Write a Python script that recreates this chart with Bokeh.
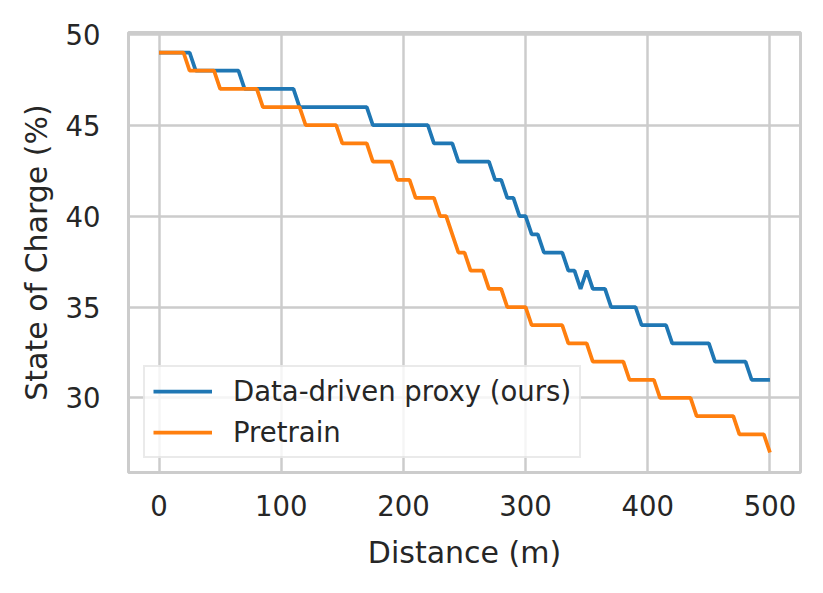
from bokeh.plotting import figure
from bokeh.models import ColumnDataSource, Legend, LegendItem, FixedTicker, Range1d
from bokeh.embed import file_html
from bokeh.resources import INLINE

# Distance samples (m), every 5 m
distance_m = list(range(0, 501, 5))

# State of charge (%)
soc_proxy = [
    49, 49, 49, 49, 49, 49,
    48, 48, 48, 48, 48, 48, 48, 48,
    47, 47, 47, 47, 47, 47, 47, 47, 47,
    46, 46, 46, 46, 46, 46, 46, 46, 46, 46, 46, 46,
    45, 45, 45, 45, 45, 45, 45, 45, 45, 45,
    44, 44, 44, 44,
    43, 43, 43, 43, 43, 43,
    42, 42,
    41, 41,
    40, 40,
    39, 39,
    38, 38, 38, 38,
    37, 37,
    36,
    37,
    36, 36, 36,
    35, 35, 35, 35, 35,
    34, 34, 34, 34, 34,
    33, 33, 33, 33, 33, 33, 33,
    32, 32, 32, 32, 32, 32,
    31, 31, 31, 31,
]

soc_pretrain = [
    49, 49, 49, 49, 49,
    48, 48, 48, 48, 48,
    47, 47, 47, 47, 47, 47, 47,
    46, 46, 46, 46, 46, 46, 46,
    45, 45, 45, 45, 45, 45,
    44, 44, 44, 44, 44,
    43, 43, 43, 43,
    42, 42, 42,
    41, 41, 41, 41,
    40, 40,
    39,
    38, 38,
    37, 37, 37,
    36, 36, 36,
    35, 35, 35, 35,
    34, 34, 34, 34, 34, 34,
    33, 33, 33, 33,
    32, 32, 32, 32, 32, 32,
    31, 31, 31, 31, 31,
    30, 30, 30, 30, 30, 30,
    29, 29, 29, 29, 29, 29, 29,
    28, 28, 28, 28, 28,
    27,
]

series_labels = ["Data-driven proxy (ours)", "Pretrain"]
series_colors = ["#1f77b4", "#ff7f0e"]
x_ticks = [0, 100, 200, 300, 400, 500]
y_ticks = [30, 35, 40, 45, 50]

TEXT = "#262626"
GRID = "#cccccc"
FONT = "DejaVu Sans"

p = figure(width=815, height=585, output_backend="svg", toolbar_location=None,
           x_range=Range1d(-25, 525), y_range=Range1d(25.9, 50.1))
p.min_border_left = 128
p.min_border_right = 15
p.min_border_top = 32
p.min_border_bottom = 113

src = ColumnDataSource(dict(x=distance_m, a=soc_proxy, b=soc_pretrain))
r1 = p.line("x", "a", source=src, line_color=series_colors[0], line_width=3.75)
r2 = p.line("x", "b", source=src, line_color=series_colors[1], line_width=3.75)

p.outline_line_color = GRID
p.outline_line_width = 3
p.background_fill_color = "white"
p.border_fill_color = "white"

for g in (p.xgrid[0], p.ygrid[0]):
    g.grid_line_color = GRID
    g.grid_line_width = 2.5

p.xaxis.ticker = FixedTicker(ticks=x_ticks)
p.yaxis.ticker = FixedTicker(ticks=y_ticks)
p.xaxis.axis_label = "Distance (m)"
p.yaxis.axis_label = "State of Charge (%)"

for ax in (p.xaxis[0], p.yaxis[0]):
    ax.axis_line_color = None
    ax.major_tick_line_color = None
    ax.minor_tick_line_color = None
    ax.major_label_text_font = FONT
    ax.major_label_text_font_size = "27.5px"
    ax.major_label_text_color = TEXT
    ax.axis_label_text_font = FONT
    ax.axis_label_text_font_size = "30px"
    ax.axis_label_text_font_style = "normal"
    ax.axis_label_text_color = TEXT

p.xaxis.major_label_standoff = 16
p.xaxis.axis_label_standoff = 16
p.yaxis.major_label_standoff = 22
p.yaxis.axis_label_standoff = 9

legend = Legend(items=[LegendItem(label=series_labels[0], renderers=[r1]),
                       LegendItem(label=series_labels[1], renderers=[r2])],
                location=(15, 14))
legend.label_text_font = FONT
legend.label_text_font_size = "27.5px"
legend.label_text_color = TEXT
legend.glyph_width = 59
legend.glyph_height = 30
legend.label_height = 30
legend.label_standoff = 21
legend.spacing = 9
legend.padding = 8
legend.margin = 0
legend.border_line_color = "#d6d6d6"
legend.border_line_width = 2.5
legend.background_fill_color = "white"
legend.background_fill_alpha = 0.8
p.add_layout(legend, "center")

open("out.html", "w").write(file_html(p, INLINE))
